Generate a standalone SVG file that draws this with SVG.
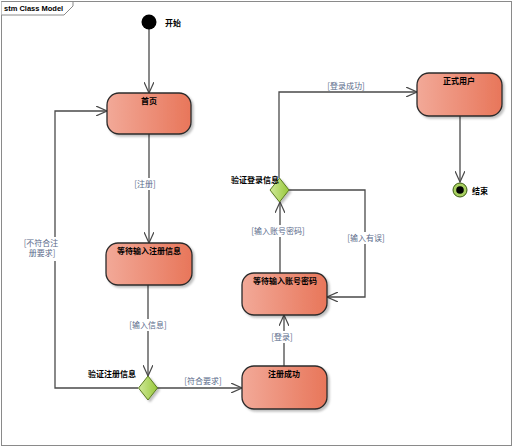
<svg xmlns="http://www.w3.org/2000/svg" width="514" height="448" viewBox="0 0 514 448">
<style>
.node rect{fill:url(#ng);stroke:#2b2b2b;stroke-width:1.3}
.dec polygon{fill:url(#dg);stroke:#5a7a20;stroke-width:1}
.nt{font-family:"Noto Sans CJK SC","Liberation Sans",sans-serif;font-size:8px;font-weight:bold;fill:#000;text-anchor:middle}
.lt{font-family:"Noto Sans CJK SC","Liberation Sans",sans-serif;font-size:8px;fill:#5a6a8a;text-anchor:middle}
.ct{font-family:"Noto Sans CJK SC","Liberation Sans",sans-serif;font-size:8px;font-weight:bold;fill:#000}
.edge{fill:none;stroke:#4a4a4a;stroke-width:1.3;marker-end:url(#arr)}
</style>
<defs>
<linearGradient id="ng" x1="0" y1="0" x2="1" y2="0">
<stop offset="0" stop-color="#f2a998"/>
<stop offset="1" stop-color="#e8765a"/>
</linearGradient>
<linearGradient id="dg" x1="0" y1="0" x2="1" y2="0">
<stop offset="0" stop-color="#d0e99a"/>
<stop offset="1" stop-color="#98c83a"/>
</linearGradient>
<marker id="arr" markerWidth="12" markerHeight="10" refX="11" refY="5" orient="auto" markerUnits="userSpaceOnUse">
<path d="M0,0 L11,5 L0,10" fill="none" stroke="#4a4a4a" stroke-width="1.2"/>
</marker>
<filter id="sh" x="-10%" y="-10%" width="130%" height="130%">
<feDropShadow dx="2" dy="2" stdDeviation="1.2" flood-color="#000" flood-opacity="0.25"/>
</filter>
</defs>
<rect x="0" y="0" width="514" height="448" fill="#fff"/>
<g id="frame">
<rect x="1.5" y="1.5" width="510" height="444" fill="none" stroke="#8a8a8a" stroke-width="1"/>
<path d="M1.5,1.5 H73 V6 L64,15 H1.5" fill="#fff" stroke="#8a8a8a" stroke-width="1"/>
<text x="4" y="11" font-family="Liberation Sans,sans-serif" font-size="7.5" font-weight="bold" fill="#000">stm Class Model</text>
</g>
<g id="connectors">
<path class="edge" d="M149,29 V93"/>
<path class="edge" d="M149,134 V243"/>
<path class="edge" d="M148,285 V376"/>
<path class="edge" d="M138,388 H55 V111 H107"/>
<path class="edge" d="M157,388 H242"/>
<path class="edge" d="M284,366 V315"/>
<path class="edge" d="M280,273 V202"/>
<path class="edge" d="M289,190 H365 V297 H327"/>
<path class="edge" d="M279,178 V92 H417"/>
<path class="edge" d="M460,116 V182"/>
<rect x="134" y="178" width="22" height="12" fill="#fff"/>
<text class="lt" x="145" y="187">[注册]</text>
<rect x="127" y="319" width="42" height="12" fill="#fff"/>
<text class="lt" x="148" y="328">[输入信息]</text>
<rect x="24" y="237" width="32" height="24" fill="#fff"/>
<text class="lt" x="41" y="246">[不符合注</text>
<text class="lt" x="42" y="256">册要求]</text>
<text class="lt" x="203" y="384">[符合要求]</text>
<rect x="270" y="331" width="24" height="12" fill="#fff"/>
<text class="lt" x="282" y="340">[登录]</text>
<rect x="250" y="225" width="56" height="12" fill="#fff"/>
<text class="lt" x="278" y="234">[输入账号密码]</text>
<rect x="346" y="232" width="40" height="12" fill="#fff"/>
<text class="lt" x="366" y="241">[输入有误]</text>
<text class="lt" x="346" y="89">[登录成功]</text>
</g>
<g id="start">
<circle cx="149" cy="22" r="7.5" fill="#000"/>
<text class="ct" x="165" y="26">开始</text>
</g>
<g id="home" class="node">
<rect x="107" y="93" width="84" height="41" rx="12" filter="url(#sh)"/>
<text class="nt" x="149" y="104">首页</text>
</g>
<g id="waitReg" class="node">
<rect x="106" y="243" width="86" height="42" rx="12" filter="url(#sh)"/>
<text class="nt" x="149" y="254">等待输入注册信息</text>
</g>
<g id="checkReg" class="dec">
<polygon points="148,376 157.5,388 148,400 138.5,388" filter="url(#sh)"/>
<text class="ct" x="88" y="377">验证注册信息</text>
</g>
<g id="regOk" class="node">
<rect x="242" y="366" width="85" height="43" rx="12" filter="url(#sh)"/>
<text class="nt" x="284" y="377">注册成功</text>
</g>
<g id="waitLogin" class="node">
<rect x="242" y="273" width="85" height="42" rx="12" filter="url(#sh)"/>
<text class="nt" x="285" y="284">等待输入账号密码</text>
</g>
<g id="checkLogin" class="dec">
<polygon points="279.5,178 289,190 279.5,202 270,190" filter="url(#sh)"/>
<text class="ct" x="231" y="183">验证登录信息</text>
</g>
<g id="user" class="node">
<rect x="417" y="73" width="85" height="43" rx="12" filter="url(#sh)"/>
<text class="nt" x="459" y="84">正式用户</text>
</g>
<g id="end">
<circle cx="460" cy="190" r="7" fill="#a8d060" stroke="#3a5a10" stroke-width="1"/>
<circle cx="460" cy="190" r="3.8" fill="#000"/>
<text class="ct" x="472" y="194">结束</text>
</g>
</svg>
